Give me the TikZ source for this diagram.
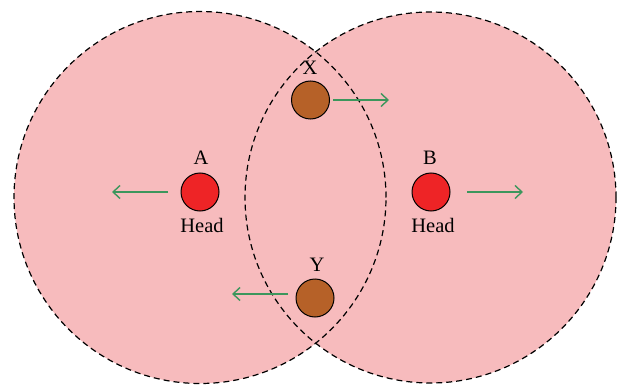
\documentclass[tikz,border=0pt]{standalone}
\usepackage{fontspec}
\setmainfont{Liberation Serif}
\usetikzlibrary{arrows.meta}
\definecolor{zone}{RGB}{247,187,189}
\definecolor{headred}{RGB}{238,36,38}
\definecolor{bodybrown}{RGB}{182,97,40}
\definecolor{mvgreen}{RGB}{60,150,92}
\tikzset{
  zonefill/.style={fill=zone, draw=none},
  zoneline/.style={draw=black, line width=1.2pt, dash pattern=on 6pt off 4pt},
  headdot/.style={circle, draw=black, line width=1pt, fill=headred, minimum size=38pt, inner sep=0pt},
  bodydot/.style={circle, draw=black, line width=1pt, fill=bodybrown, minimum size=38pt, inner sep=0pt},
  lbl/.style={font=\fontsize{20.5}{24}\selectfont, inner sep=0pt},
  mv/.style={draw=mvgreen, line width=1.6pt, -{Straight Barb[length=7pt,width=13pt,line width=1.4pt]}}
}
\begin{document}
\begin{tikzpicture}[x=1pt,y=-1pt]
\useasboundingbox (0,0) rectangle (618,385);
% zones
\fill[zonefill] (200,197.5) circle[radius=186pt];
\fill[zonefill] (430.5,197.5) circle[radius=185.5pt];
\draw[zoneline] (200,197.5) circle[radius=186pt];
\draw[zoneline] (430.5,197.5) circle[radius=185.5pt];
% heads
\node[headdot] (A) at (200,192) {};
\node[headdot] (B) at (431,192) {};
\node[lbl] (Alab) at (201,158) {A};
\node[lbl] (Ahead) at (202,225) {Head};
\node[lbl] (Blab) at (430,158) {B};
\node[lbl] (Bhead) at (433,225) {Head};
% bodies
\node[bodydot] (X) at (310.5,100) {};
\node[bodydot] (Y) at (315,298) {};
\node[lbl] (Xlab) at (310,68) {X};
\node[lbl] (Ylab) at (317,265) {Y};
% arrows
\coordinate (As) at (168,192);
\coordinate (Ae) at (112,192);
\coordinate (Bs) at (467,192);
\coordinate (Be) at (523,192);
\coordinate (Xs) at (333,100);
\coordinate (Xe) at (389,100);
\coordinate (Ys) at (288,294);
\coordinate (Ye) at (232,294);
\draw[mv] (As) -- (Ae);
\draw[mv] (Bs) -- (Be);
\draw[mv] (Xs) -- (Xe);
\draw[mv] (Ys) -- (Ye);
\end{tikzpicture}
\end{document}
